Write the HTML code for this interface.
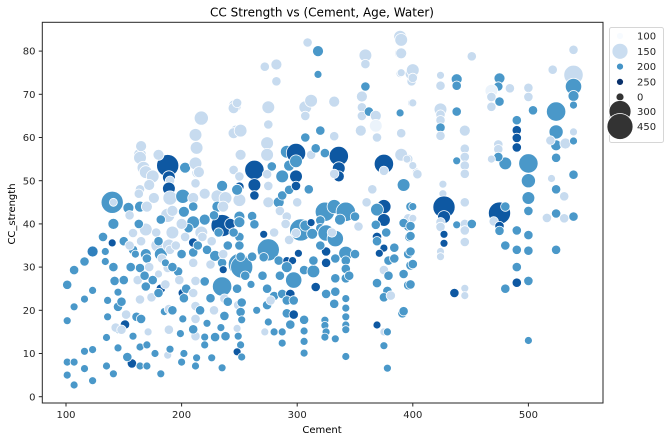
<!DOCTYPE html>
<html><head><meta charset="utf-8"><style>
html,body{margin:0;padding:0;background:#fff;}
svg{display:block;font-family:"DejaVu Sans","Liberation Sans",sans-serif;}
</style></head><body>
<svg id="chart" width="667" height="441" viewBox="0 0 667 441" xmlns="http://www.w3.org/2000/svg">
<text x="322" y="16.5" font-size="12" text-anchor="middle" fill="#000">CC Strength vs (Cement, Age, Water)</text>
<g id="points"></g>
<rect x="42.3" y="22.3" width="560.7" height="380.7" fill="none" stroke="#262626" stroke-width="1"/>
<g id="xticks"></g>
<g id="yticks"></g>
<text x="322" y="433" font-size="10" text-anchor="middle">Cement</text>
<text transform="translate(15,214) rotate(-90)" font-size="10" text-anchor="middle">CC_strength</text>
<g id="legend"></g>
</svg>
<script>
const cement=[101,101,101,101,107,107,107,107,116,116,116,116,
123,123,123,123,132,134,134,
140,141,140,141,136,136,135,135,
141,142,145,145,145,143,145,141,
150,151,148,154,164,158,158,157,153,
164,164,167,169,175,164,163,
169,169,164,169,164,161,164,170,164,170,
179,182,180,182,185,182,
188,189,190,189,190,188,192,189,188,189,189,188,
197,201,202,201,202,203,201,199,202,
210,212,213,212,213,212,217,
210,210,210,212,212,212,212,210,212,
217,220,225,220,225,220,220,
229,231,231,235,238,235,235,236,235,237,237,229,235,
246,247,250,250,
245,248,245,251,251,245,250,250,248,242,250,250,250,252,251,261,248,249,252,251,252,248,249,251,248,252,
263,263,263,261,263,271,
275,275,272,282,282,274,274,278,274,275,275,284,285,287,287,
275,271,284,274,280,287,274,277,275,272,280,287,287,
291,293,293,299,299,299,299,291,293,303,299,307,
291,296,291,297,306,301,294,291,297,291,297,306,294,306,306,306,
309,318,318,307,312,307,307,312,316,320,
324,332,342,337,320,320,313,312,325,333,
314,316,314,325,325,333,325,333,332,333,
324,324,325,324,333,
332,332,336,336,336,332,324,
342,342,342,342,342,342,342,342,342,342,
350,353,359,359,356,356,356,355,359,362,368,368,369,
375,375,375,369,375,368,369,377,369,375,371,379,375,379,369,378,375,381,369,375,378,375,378,
389,389,389,399,399,399,389,396,403,398,396,396,397,396,398,396,391,384,384,
390,390,390,400,400,400,390,390,395,400,404,392,400,400,392,398,398,398,400,392,398,392,
424,424,424,424,424,424,424,438,438,438,451,445,445,445,445,445,426,426,427,427,424,424,427,427,424,424,438,445,445,451,445,445,438,436,445,445,
475,474,484,468,468,468,475,480,474,474,474,468,475,480,470,475,475,480,480,
500,500,504,490,490,490,490,500,500,500,500,490,500,490,500,490,490,500,500,
521,539,539,539,539,539,524,524,524,532,524,519,539,539,520,524,531,539,516,524,531,539,524,
150,155,160,165,170,172,175,178,180,183,186,190,192,195,200,203,206,210,214,218,222,226,232,236,240,
156,162,168,174,180,186,192,198,204,210,216,222,228,234,240,
148,152,158,165,171,177,190,200,213,226,238,
155,163,170,176,182,192,200,210,220,228,236,165,172,180,215,
245,250,255,260,265,270,280,285,290,300,310,320,330,345,350,360,365];
const strength=[25.9,17.6,8,5,29.3,20.8,8,2.7,31.3,22.6,10.5,6.5,
33.6,24.6,10.9,3.7,37,33.6,31.3,
45,45,35.6,40,22.3,18.5,13.7,7.1,
30,26.8,24.2,20.8,15.5,16,11.3,5.3,
27,16.7,15.5,43.7,44,37.9,34,7.7,9.2,
56,55.3,53,52,51,48,47,
38.7,33,29.8,25.5,22.5,18.5,11.5,12,7.1,7.1,
35,33,28.4,25,19.7,5.3,
53.5,50.8,50,48.2,46,42,38,35,29.8,20.3,15.5,9.6,
29,24,22.8,46.4,42.8,53,18,14.6,10,
46,49.4,51.8,54,57.6,60.6,64.5,
40.4,35.7,33.4,26.8,21,18,14,15.6,7.1,
38,41,30.6,26.7,22.8,13.8,12,
32.6,46.4,44,48.8,46,39.6,31,29.4,25.5,22.7,18.7,13.8,6.7,
67.3,61.6,30.6,48.6,
66.8,68,61,61.6,56,52.5,51,45.5,47.9,40,41.7,40.4,37,30,32.4,32.4,25,21.2,21.8,19.6,17.8,15.8,14,12,10.4,9.2,
52.5,49,46.6,41.8,39.9,37.6,
67,63,76.4,76.9,73,58.7,56,53.3,51.5,48.8,45,45,43,51,46.6,
34,32.3,31.5,25,23.3,23.8,21.2,22.3,17.3,15,15,15,12.4,
56.7,53.5,47.9,56.4,54.5,51,48.8,41.7,36.3,38.6,37.9,39.6,
31.5,31.5,30,27,29.3,33.2,23.8,22.3,22.3,19.3,19,17.8,16.7,15.2,12.8,10.1,
82,80,74.6,67,68.5,65,60,56,57.5,61.6,
42.8,44,42.8,41,40.8,39,37.7,40.3,37.9,36.6,
29,25.4,31.5,33.6,31,32,23.8,27.4,21.5,24.3,
17.7,16.5,15,13.8,13.4,
68.3,60.3,55.7,52.9,51,51.6,56.4,
33.2,31.5,29.6,27.4,22.7,20.5,18.5,16.6,15.5,9.3,
41.7,39.4,79,77,69.5,67,65,61.6,71.8,66,65,62.7,60,
53.9,52.3,44,43.3,40.9,39.8,37,38,36,34.4,33.2,31.5,29.3,28,26.3,24.5,23,23.4,16.6,15,15,11.8,6.6,
83.3,79.5,74.8,74.8,73,68,65.7,55,52,44,41.3,39.4,37,33,30.4,25.8,19.3,34.5,32,
82.6,79.5,75,75.6,73.8,68,61,56,55,53.5,51.5,49,44,41.3,40.2,39.5,37.2,33.6,30.7,28.4,26,19.8,
74.4,72,66.5,65.3,64,62.3,60.4,73.5,72,66,78.8,61.6,57.4,55.5,53.5,51.6,49.2,47,43.9,41.6,40.4,39.3,37.6,35.5,33.6,32.4,54.6,45,40,40,38.5,35.8,39.8,24,25.1,23.4,
73.7,71.8,71.4,70.8,69.4,67.1,68.3,54,58.4,57.3,55.5,55,42.5,44,40.6,39.5,38.4,35,25,
71.5,69.4,66.3,64,61.7,59.9,57.7,54,50,46,43,38.5,37.4,34,33.8,30,26.4,26.8,13,
75.7,80.3,74.5,71.8,69.6,67.5,66,61.3,58.2,58.6,55.3,59.3,61.3,59.2,50.5,48,46.4,51.4,41.4,42.4,41.3,41.7,34,
36,35,33,36,32,30,27,38,36,32,31,34,30,35,33,37,39,31,35,37,34,36,38,33,35,
30,27,28,23,24,26,20,27,25,24,20,17,20,16,22,
22,19,14,18,15,10,11,8,9,9,14,
42,40,44,46,41,43,40,44,47,42,44,58,49,56,52,
38,35,28,26,20,28,38,28,40,45,48,35,38,28,33,45,48];
const water=[198,198,198,198,198,198,198,198,198,198,198,198,
210,198,198,198,198,198,198,
198,152,230,198,198,198,198,198,
198,198,198,198,198,152,198,198,
198,230,152,198,198,152,198,230,198,
152,152,152,152,152,152,152,
152,198,198,198,152,198,198,198,198,198,
152,198,152,230,198,198,
230,230,152,230,152,152,152,152,152,152,152,152,
198,230,198,198,198,198,198,198,198,
152,152,152,152,152,152,152,
198,230,198,152,152,152,152,198,198,
152,198,152,198,198,198,198,
198,152,198,198,152,230,198,230,198,152,198,198,198,
152,152,198,230,
152,152,152,152,152,152,152,152,198,230,198,198,198,198,198,198,198,152,198,198,198,152,198,198,230,198,
230,230,230,198,198,230,
152,152,152,152,152,152,152,198,152,152,152,198,152,198,198,
198,198,198,198,198,198,198,152,198,152,198,198,198,
198,198,198,230,198,230,230,152,152,198,152,198,
230,230,198,198,198,230,230,198,198,198,230,198,198,198,198,198,
152,198,198,152,152,152,198,152,198,198,
198,198,198,198,198,198,198,230,198,198,
198,230,198,230,230,198,198,198,198,198,
198,198,198,198,198,
152,152,230,230,230,152,198,
198,198,198,198,198,198,198,198,198,198,
198,152,152,152,152,152,152,152,198,198,152,128,152,
230,152,230,198,230,198,230,198,198,230,230,198,152,198,198,198,198,152,230,152,198,198,198,
152,152,152,152,152,152,198,152,152,198,152,198,198,198,198,198,198,198,198,
152,152,152,152,152,152,152,152,152,152,152,198,198,152,198,198,198,198,198,198,198,198,
152,152,152,152,152,198,152,198,198,198,152,152,152,152,152,152,152,152,230,230,152,152,230,230,152,152,198,152,152,198,152,152,198,230,152,152,
198,198,152,128,152,152,198,198,152,152,198,152,230,198,152,230,198,198,198,
152,152,198,198,230,230,230,198,198,198,198,198,198,198,198,198,230,198,198,
152,152,152,198,198,198,198,198,198,152,198,152,152,198,152,198,152,198,152,198,152,198,198,
198,152,198,152,198,152,198,152,198,152,198,152,198,152,198,152,198,152,198,152,198,152,198,152,198,
198,152,198,152,198,152,198,152,198,152,198,198,152,198,198,
198,152,198,198,152,198,198,198,198,198,198,
152,198,152,152,198,152,152,198,152,198,152,152,152,152,152,
198,198,198,198,198,198,152,198,152,152,198,198,152,198,198,152,152];
const age=[28,7,7,7,28,7,7,7,28,7,7,7,
56,7,7,7,28,7,7,
365,7,7,56,7,7,7,7,
28,28,7,28,7,28,7,7,
28,28,28,56,56,28,28,28,28,
90,90,90,90,90,28,28,
90,56,28,28,28,28,7,7,7,7,
90,90,7,28,7,7,
365,90,28,90,120,120,90,90,28,28,28,7,
28,28,28,120,56,56,7,7,7,
56,28,28,90,90,90,120,
90,28,28,28,28,28,28,28,7,
90,56,28,28,28,7,7,
56,90,56,56,90,365,28,7,270,28,28,28,7,
90,56,365,28,
56,28,56,90,56,28,28,90,56,56,56,56,28,365,28,28,28,28,28,28,7,7,7,7,7,7,
270,90,28,28,28,7,
90,28,28,56,28,90,90,28,28,28,56,56,28,90,28,
365,28,28,28,28,28,28,28,7,7,7,7,7,
90,56,28,270,90,90,28,28,28,365,28,56,
7,7,56,180,28,7,28,28,28,28,28,28,28,7,7,7,
28,56,7,90,90,28,28,28,28,28,
270,120,270,56,28,28,56,7,180,180,
90,28,28,28,28,28,28,28,28,28,
7,7,7,7,7,
56,28,270,90,56,28,28,
120,28,28,28,7,7,7,7,7,7,
28,28,90,28,56,28,28,56,28,28,56,90,28,
270,28,120,90,90,28,28,28,28,7,7,28,28,28,28,28,28,28,7,7,7,7,7,
90,56,7,90,28,7,7,28,7,28,28,28,28,28,28,28,28,28,28,
90,56,7,90,28,7,28,90,7,7,28,90,7,7,28,28,28,28,28,28,28,28,
7,28,90,28,28,28,28,56,28,28,28,56,28,28,28,28,7,7,365,90,28,28,7,7,7,7,7,28,28,28,28,28,7,28,7,7,
56,28,28,90,28,28,28,90,28,28,28,7,365,28,28,28,28,28,28,
28,28,28,28,28,28,28,270,120,90,28,28,28,28,28,28,28,28,7,
28,28,270,180,56,7,270,120,56,56,28,28,7,7,7,28,28,28,28,28,28,28,28,
28,28,7,28,28,28,28,28,28,28,7,28,28,28,28,28,28,28,28,28,28,28,28,28,28,
28,28,28,28,28,28,28,28,28,28,28,7,28,7,28,
28,28,7,28,7,7,7,7,7,7,28,
28,28,56,56,28,56,56,28,56,28,56,56,56,56,56,
28,28,28,7,7,28,28,28,28,28,28,28,28,28,28,28,28];
const xTicks=[100,200,300,400,500];
const yTicks=[0,10,20,30,40,50,60,70,80];
const legendHueLabels=["100","150","200","250"];
const legendHueValues=[100,150,200,250];
const legendSizeLabels=["0","300","450"];
const legendSizeValues=[0,300,450];

const NS="http://www.w3.org/2000/svg";
const xScale=c=>66+(c-100)*1.156;
const yScale=v=>396.7-v*4.32;
const rScale=a=>Math.sqrt(14+a*0.3);
const stops=["#f7fbff","#deebf7","#c6dbef","#9ecae1","#6baed6","#4292c6","#2171b5","#08519c","#08306b"];
function hx(h){return [1,3,5].map(i=>parseInt(h.substr(i,2),16));}
function color(w){let t=Math.max(0,Math.min(1,(w-120)/130))*8;let i=Math.min(7,Math.floor(t));let f=t-i;
 const a=hx(stops[i]),b=hx(stops[i+1]);return "rgb("+a.map((v,k)=>Math.round(v+(b[k]-v)*f)).join(",")+")";}
function mk(tag,attrs,parent){const e=document.createElementNS(NS,tag);for(const k in attrs)e.setAttribute(k,attrs[k]);parent.appendChild(e);return e;}

const pg=document.getElementById("points");
const n=Math.min(cement.length,strength.length,water.length,age.length);
for(let i=0;i<n;i++){
 const c=mk("circle",{cx:xScale(cement[i]).toFixed(1),cy:yScale(strength[i]).toFixed(1),r:rScale(age[i]).toFixed(1),fill:color(water[i]),stroke:"#fff","stroke-width":"0.8"},pg);
 
 
}
const xg=document.getElementById("xticks");
xTicks.forEach(t=>{const x=xScale(t);
 const l=mk("line",{x1:x,x2:x,y1:403,y2:406.5,stroke:"#262626"},xg);
 
 
 const tx=mk("text",{x:x,y:418,"font-size":"10","text-anchor":"middle",fill:"#262626"},xg);tx.textContent=t;
 
 
});
const yg=document.getElementById("yticks");
yTicks.forEach(t=>{const y=yScale(t);
 const l=mk("line",{x1:38.8,x2:42.3,y1:y,y2:y,stroke:"#262626"},yg);
 
 
 const tx=mk("text",{x:35.5,y:y+3.6,"font-size":"10","text-anchor":"end",fill:"#262626"},yg);tx.textContent=t;
 
 
});
const lg=document.getElementById("legend");
const box=mk("rect",{x:609.5,y:27.5,width:54,height:115,rx:2,fill:"#fff","fill-opacity":"0.8",stroke:"#d6d6d6"},lg);


const hueR=[3.5,8,3.5,3.5];
legendHueLabels.forEach((lab,i)=>{const y=36+i*15.3;
 const c=mk("circle",{cx:620,cy:y,r:hueR[i],fill:color(legendHueValues[i]),stroke:"#fff","stroke-width":"0.8"},lg);
 
 
 const t=mk("text",{x:637,y:y+3.6,"font-size":"10",fill:"#262626"},lg);t.textContent=lab;
 
 
});
const sizeY=[97,111.5,126.5];const sizeR=[4,11,13];
legendSizeLabels.forEach((lab,i)=>{const y=sizeY[i];
 const c=mk("circle",{cx:620,cy:y,r:sizeR[i],fill:"#333",stroke:"#fff","stroke-width":"0.8"},lg);
 
 
 const t=mk("text",{x:637,y:y+3.6,"font-size":"10",fill:"#262626"},lg);t.textContent=lab;
 
 
});
</script>
</body></html>
